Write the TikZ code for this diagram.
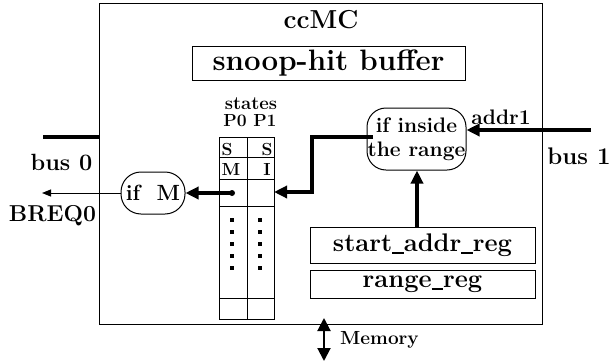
\documentclass[tikz,border=0pt]{standalone}
\usetikzlibrary{arrows.meta}
\newcommand{\usc}{\rule[-2.5pt]{0.45em}{1.6pt}}
\tikzset{
  txtL/.style={font=\fontsize{26}{28}\selectfont\bfseries, inner sep=0pt},
  txtM/.style={font=\fontsize{24}{26}\selectfont\bfseries, inner sep=0pt},
  txtS/.style={font=\fontsize{19}{20}\selectfont\bfseries, inner sep=0pt},
  txtT/.style={font=\fontsize{17.5}{19}\selectfont\bfseries, inner sep=0pt},
  txtC/.style={font=\fontsize{17.5}{19}\selectfont\bfseries, inner sep=0pt},
  regbox/.style={draw, line width=1pt, inner sep=0pt, font=\fontsize{25.5}{28}\selectfont\bfseries},
  roundbox/.style={draw, line width=1pt, rounded corners=19pt, inner sep=0pt},
  thickline/.style={line width=4pt},
  bigtip/.style={-{Triangle[length=13pt,width=12pt]}},
  cell/.style={line width=1pt}
}
\begin{document}
\begin{tikzpicture}[x=1pt,y=-1pt]
\useasboundingbox (0,0) rectangle (611,362);
% main box
\node[draw, line width=1.2pt, minimum width=443pt, minimum height=321pt, anchor=north west, inner sep=0pt] (main) at (99,3) {};
\node[txtL] (title) at (321,20) {ccMC};
\node[regbox, minimum width=273pt, minimum height=34pt, font=\fontsize{29.5}{31}\selectfont\bfseries] (snoop) at (328.5,63) {snoop-hit buffer};
% states column
\node[txtT, font=\fontsize{18.5}{20}\selectfont\bfseries] (states) at (251,104) {states};
\node[txtT] (p01) at (250,121) {P0 P1};
\draw[cell] (219,137) rectangle (274,319);
\draw[cell] (247,137) -- (247,319);
\foreach \yy in {157,179,206,298} \draw[cell] (219,\yy) -- (274,\yy);
\node[txtC] (s0) at (227,149) {S};
\node[txtC] (s1) at (267,149) {S};
\node[txtC] (m0) at (231,169) {M};
\node[txtC] (i1) at (267,169) {I};
\foreach \yy in {218,230,242,254,266} {
  \fill (230,\yy) rectangle ++(4,4);
  \fill (258,\yy) rectangle ++(4,4);
}
\coordinate (cellin) at (274,192);
\node[circle, fill, inner sep=0pt, minimum size=6pt] (dot) at (232,193) {};
% if M
\node[roundbox, minimum width=64pt, minimum height=42pt, rounded corners=20pt, font=\fontsize{22}{24}\selectfont\bfseries] (ifm) at (153,193) {if\ \ M};
% if inside
\node[roundbox, minimum width=99pt, minimum height=62pt, align=center, font=\fontsize{21}{24}\selectfont\bfseries] (ifin) at (416.5,139) {if inside\\the range};
% registers
\node[regbox, minimum width=225pt, minimum height=36pt] (start) at (422.5,245) {start\usc addr\usc reg};
\node[regbox, minimum width=225pt, minimum height=28pt] (range) at (422.5,284) {range\usc reg};
% bus 0
\coordinate (b0a) at (43,137);
\coordinate (b0b) at (99,137);
\draw[thickline] (b0a) -- (b0b);
\node[txtM, font=\fontsize{23.5}{26}\selectfont\bfseries] (bus0) at (61.5,162) {bus 0};
\node[txtM, font=\fontsize{23}{26}\selectfont\bfseries] (breq) at (52.5,216) {BREQ0};
\coordinate (breqend) at (42,193);
\draw[line width=1pt, -{Triangle[length=9pt,width=7pt]}] (ifm.west) -- (breqend);
\draw[thickline, bigtip] (dot.center) -- (ifm.east);
% from if inside to states
\coordinate (c1) at (312,137);
\coordinate (c2) at (312,192);
\draw[thickline, bigtip] (373,137) -- (c1) -- (c2) -- (cellin);
% bus 1
\coordinate (b1) at (591,130);
\draw[thickline, bigtip] (b1) -- (ifin.east |- b1);
\node[txtM, font=\fontsize{21}{23}\selectfont\bfseries] (addr) at (501,117) {addr1};
\node[txtM] (bus1) at (579,156) {bus 1};
% start -> if inside
\draw[thickline, bigtip] (start.north -| 417,0) -- (ifin.south -| 417,0);
% memory
\coordinate (memtop) at (324,318);
\coordinate (membot) at (324,361);
\draw[line width=2pt, {Triangle[length=13pt,width=13pt]}-{Triangle[length=13pt,width=13pt]}] (memtop) -- (membot);
\node[txtS, anchor=west] (mem) at (340,340) {Memory};
\end{tikzpicture}
\end{document}
